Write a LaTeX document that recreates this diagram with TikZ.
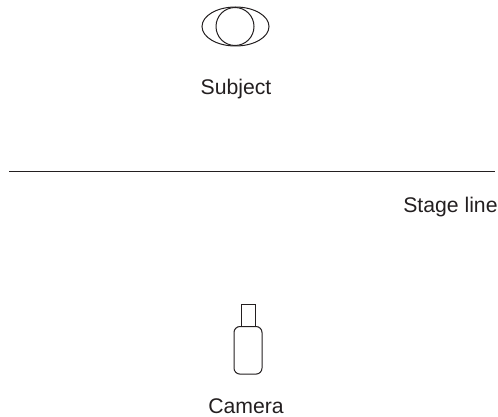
\documentclass[tikz,border=0pt]{standalone}
\usepackage{fontspec}
\setmainfont{Liberation Sans}
\usetikzlibrary{shapes.geometric,positioning}
\definecolor{dgink}{HTML}{231F20}

\begin{document}
\begin{tikzpicture}[
  x=0.5pt, y=-0.5pt,
  outline/.style={draw=dgink, line width=0.5pt, inner sep=0pt},
  subjectoval/.style={outline, ellipse, minimum width=33.5pt, minimum height=19.5pt},
  subjecthead/.style={outline, circle, minimum size=19pt},
  cambody/.style={outline, rounded corners=3pt, minimum width=14pt, minimum height=23.8pt},
  camlens/.style={outline, minimum width=7pt, minimum height=11pt},
  lab/.style={font=\fontsize{10.6}{12}\selectfont, text=dgink, inner sep=0pt}
]
\useasboundingbox (0,0) rectangle (498,417);
\node[subjectoval] (oval) at (235.5,26.5) {};
\node[subjecthead] (head) at (235,26.5) {};
\node[lab] (subject) at (236,89.5) {Subject};

% Stage line
\coordinate (lineL) at (9,171);
\coordinate (lineR) at (495,171);
\draw[draw=dgink, line width=0.5pt] (lineL) -- (lineR);
\node[lab, anchor=east] (stage) at (498,207) {Stage line};

% Camera
\node[cambody] (body) at (248,350.3) {};
\node[camlens, above=-0.5pt of body.north] (lens) {};
\node[lab] (camera) at (246,406) {Camera};
\end{tikzpicture}
\end{document}
